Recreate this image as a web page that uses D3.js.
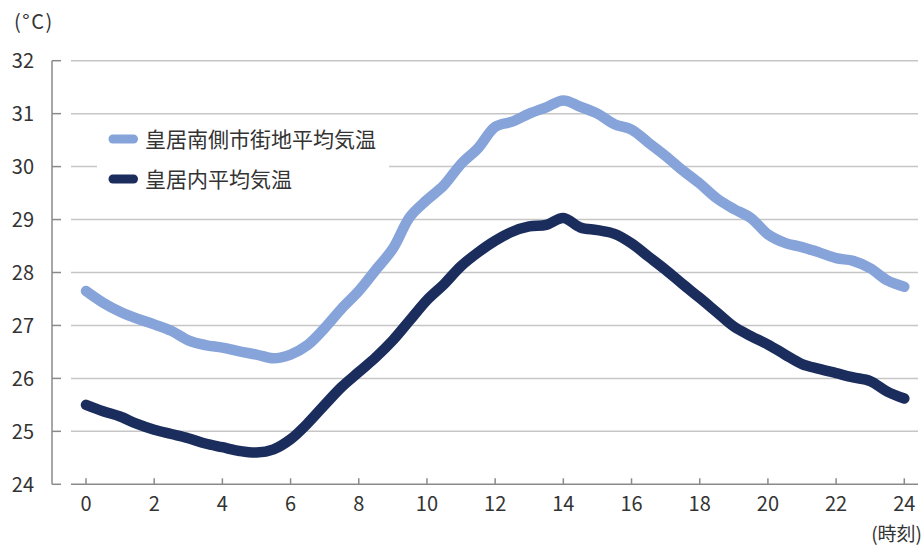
<!DOCTYPE html>
<html>
<head>
<meta charset="utf-8">
<script src="https://cdn.jsdelivr.net/npm/d3@7"></script>
<style>
  html, body { margin: 0; padding: 0; background: #fff; }
  svg { display: block; font-family: "Noto Sans CJK JP", "Noto Sans", sans-serif; }
</style>
</head>
<body>
<svg id="chart" width="924" height="547"></svg>
<script>
// ---- data ----
const hours = d3.range(0, 24.01, 0.5);
const seriesNames = ["皇居南側市街地平均気温", "皇居内平均気温"];
const cityTemp = [
  27.65, 27.43, 27.26, 27.13, 27.02, 26.90, 26.72, 26.63, 26.58, 26.51,
  26.45, 26.38, 26.45, 26.63, 26.95, 27.32, 27.65, 28.05, 28.45, 29.05,
  29.37, 29.65, 30.05, 30.35, 30.75, 30.85, 31.00, 31.12, 31.25, 31.13,
  31.00, 30.80, 30.70, 30.45, 30.20, 29.93, 29.68, 29.40, 29.20, 29.03,
  28.72, 28.56, 28.48, 28.38, 28.27, 28.22, 28.08, 27.85, 27.73
];
const palaceTemp = [
  25.50, 25.38, 25.28, 25.14, 25.03, 24.95, 24.87, 24.77, 24.70, 24.63,
  24.60, 24.66, 24.85, 25.15, 25.50, 25.84, 26.12, 26.40, 26.72, 27.10,
  27.48, 27.78, 28.12, 28.38, 28.60, 28.77, 28.87, 28.90, 29.03, 28.85,
  28.80, 28.73, 28.55, 28.30, 28.05, 27.78, 27.52, 27.25, 26.98, 26.80,
  26.64, 26.45, 26.27, 26.18, 26.10, 26.02, 25.95, 25.75, 25.62
];
const xTicks = [0, 2, 4, 6, 8, 10, 12, 14, 16, 18, 20, 22, 24];
const yTicks = [24, 25, 26, 27, 28, 29, 30, 31, 32];
const colors = ["#86a4d9", "#1b2d5c"];

// ---- drawing ----
const svg = d3.select("#chart");
const x = d3.scaleLinear().domain([0, 24]).range([86, 904.3]);
const y = d3.scaleLinear().domain([24, 32]).range([484.3, 60.7]);
const textColor = "#333";

// gridlines
svg.append("g").selectAll("line").data(yTicks.filter(v => v > 24)).join("line")
  .attr("x1", 71).attr("x2", 918)
  .attr("y1", d => y(d)).attr("y2", d => y(d))
  .attr("stroke", "#c6c6c6").attr("stroke-width", 1.5);

// baseline (x axis)
svg.append("line").attr("x1", 71).attr("x2", 918)
  .attr("y1", y(24)).attr("y2", y(24))
  .attr("stroke", "#8a8a8a").attr("stroke-width", 1.5);

// y axis line + ticks
svg.append("line").attr("x1", 52).attr("x2", 52)
  .attr("y1", y(32)).attr("y2", y(24))
  .attr("stroke", "#8a8a8a").attr("stroke-width", 1.5);
svg.append("g").selectAll("line").data(yTicks).join("line")
  .attr("x1", 52).attr("x2", 61)
  .attr("y1", d => y(d)).attr("y2", d => y(d))
  .attr("stroke", "#8a8a8a").attr("stroke-width", 1.5);
svg.append("g").selectAll("text").data(yTicks).join("text")
  .attr("x", 34).attr("y", d => y(d))
  .attr("dy", "0.36em").attr("text-anchor", "end")
  .attr("font-size", 20).attr("fill", textColor)
  .text(d => d);

// x ticks + labels
svg.append("g").selectAll("line").data(xTicks).join("line")
  .attr("x1", d => x(d)).attr("x2", d => x(d))
  .attr("y1", y(24)).attr("y2", y(24) - 6)
  .attr("stroke", "#8a8a8a").attr("stroke-width", 1.5);
svg.append("g").selectAll("text").data(xTicks).join("text")
  .attr("x", d => x(d)).attr("y", 511)
  .attr("text-anchor", "middle")
  .attr("font-size", 20).attr("fill", textColor)
  .text(d => d);

// unit labels
svg.append("text").attr("x", 14).attr("y", 29)
  .attr("font-size", 20).attr("letter-spacing", 1.5)
  .attr("fill", textColor).text("(°C)");
svg.append("text").attr("x", 922).attr("y", 541)
  .attr("text-anchor", "end")
  .attr("font-size", 19).attr("fill", textColor).text("(時刻)");

// lines
const line = d3.line()
  .x((d, i) => x(hours[i]))
  .y(d => y(d))
  .curve(d3.curveCatmullRom.alpha(0.5));

[cityTemp, palaceTemp].forEach((s, i) => {
  svg.append("path").datum(s)
    .attr("d", line)
    .attr("fill", "none")
    .attr("stroke", colors[i])
    .attr("stroke-width", 10.5)
    .attr("stroke-linecap", "round")
    .attr("stroke-linejoin", "round");
});

// legend
svg.append("rect").attr("x", 97).attr("y", 124).attr("width", 292).attr("height", 76)
  .attr("fill", "#fff");
const legY = [139, 179];
seriesNames.forEach((name, i) => {
  svg.append("line")
    .attr("x1", 113).attr("x2", 133.5)
    .attr("y1", legY[i]).attr("y2", legY[i])
    .attr("stroke", colors[i]).attr("stroke-width", 9)
    .attr("stroke-linecap", "round");
  svg.append("text")
    .attr("x", 145).attr("y", legY[i]).attr("dy", "0.36em")
    .attr("font-size", 21).attr("fill", textColor)
    .text(name);
});
</script>
</body>
</html>
